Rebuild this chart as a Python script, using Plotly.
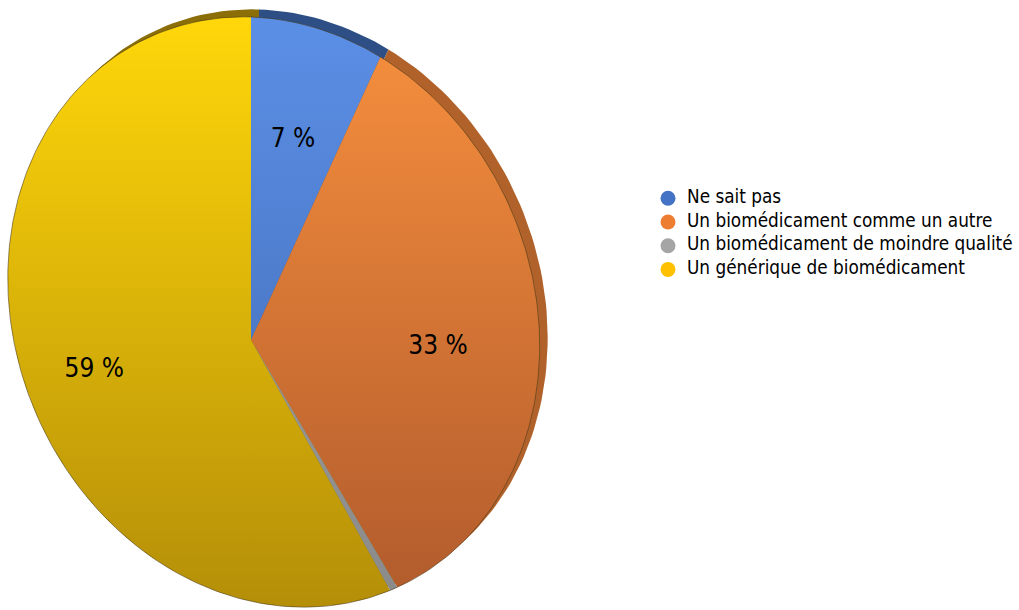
import numpy as np
import plotly.graph_objects as go

# Survey answers and their shares (%)
categories = [
    "Ne sait pas",
    "Un biomédicament comme un autre",
    "Un biomédicament de moindre qualité",
    "Un générique de biomédicament",
]
values = [7, 33, 0.5, 59]
value_labels = ["7 %", "33 %", "", "59 %"]

# Colours: legend swatch, face gradient (top -> bottom), side wall
legend_colors = ["#4472c4", "#ed7d31", "#a5a5a5", "#ffc000"]
face_top = ["#5b8fe6", "#f8903e", "#a8a8a8", "#ffd70a"]
face_bottom = ["#4068b0", "#b05a2c", "#8a8a8a", "#b48e08"]
side_colors = ["#2e4f86", "#b0622a", "#707070", "#8c6e08"]

W, H_PX = 1019, 610

# Perspective mapping of the unit disc onto the page (pixel space, y down)
HOMOG = np.array([
    [241.2, -26.5, 251.0],
    [6.93, -324.8, 340.0],
    [-0.085, -0.1056, 1.0],
])
SIDE_SHIFT = (8.0, -7.5)  # offset of the disc's lower rim (gives the 3D wall)


def project(u, v):
    pts = HOMOG @ np.vstack([u, v, np.ones_like(u)])
    return pts[0] / pts[2], pts[1] / pts[2]


def wedge(a0, a1, n=240):
    """Wedge between clockwise angles a0..a1 (radians, 0 = top)."""
    t = np.linspace(a0, a1, max(4, int(n * (a1 - a0) / (2 * np.pi)) + 4))
    u = np.concatenate([[0.0], np.sin(t), [0.0]])
    v = np.concatenate([[0.0], np.cos(t), [0.0]])
    return project(u, v)


total = float(sum(values))
bounds = np.concatenate([[0.0], np.cumsum(values)]) / total * 2 * np.pi

fig = go.Figure()

# Side wall: shifted copies drawn underneath the faces
for i in range(len(values)):
    x, y = wedge(bounds[i], bounds[i + 1])
    fig.add_trace(go.Scatter(
        x=x + SIDE_SHIFT[0], y=y + SIDE_SHIFT[1], mode="lines", fill="toself",
        fillcolor=side_colors[i], line=dict(width=0), hoverinfo="skip",
        showlegend=False,
    ))

# Top faces of the slices
for i in range(len(values)):
    x, y = wedge(bounds[i], bounds[i + 1])
    fig.add_trace(go.Scatter(
        x=x, y=y, mode="lines", fill="toself",
        fillgradient=dict(
            type="vertical",
            colorscale=[[0, face_top[i]], [1, face_bottom[i]]],
            start=17, stop=610,
        ),
        line=dict(width=0), hoverinfo="skip", showlegend=False,
    ))

# Thin rim around the face
t = np.linspace(0, 2 * np.pi, 480)
rx, ry = project(np.sin(t), np.cos(t))
fig.add_trace(go.Scatter(
    x=rx, y=ry, mode="lines", line=dict(color="rgba(70,55,20,0.55)", width=1),
    hoverinfo="skip", showlegend=False,
))

# Value labels at each slice's mid angle
lab_x, lab_y, lab_t = [], [], []
for i, txt in enumerate(value_labels):
    if not txt:
        continue
    mid = 0.5 * (bounds[i] + bounds[i + 1])
    lx, ly = project(np.array([0.67 * np.sin(mid)]), np.array([0.67 * np.cos(mid)]))
    lab_x.append(lx[0]); lab_y.append(ly[0]); lab_t.append(txt)
fig.add_trace(go.Scatter(
    x=lab_x, y=lab_y, mode="text", text=lab_t, textposition="middle center",
    textfont=dict(family="DejaVu Sans Condensed, DejaVu Sans, sans-serif",
                  size=26, color="#000000"),
    hoverinfo="skip", showlegend=False,
))

# Legend (drawn in page coordinates)
leg_x, leg_y0, leg_dy = 668, 198.3, 23.7
leg_y = [leg_y0 + k * leg_dy for k in range(len(categories))]
fig.add_trace(go.Scatter(
    x=[leg_x] * len(categories), y=leg_y, mode="markers",
    marker=dict(size=15, color=legend_colors, line=dict(width=0)),
    hoverinfo="skip", showlegend=False,
))
fig.add_trace(go.Scatter(
    x=[leg_x + 19] * len(categories), y=leg_y, mode="text", text=categories,
    textposition="middle right",
    textfont=dict(family="DejaVu Sans Condensed, DejaVu Sans, sans-serif",
                  size=18.8, color="#000000"),
    hoverinfo="skip", showlegend=False,
))

fig.update_layout(
    width=W, height=H_PX,
    margin=dict(l=0, r=0, t=0, b=0),
    paper_bgcolor="white", plot_bgcolor="white",
    xaxis=dict(range=[0, W], visible=False, fixedrange=True),
    yaxis=dict(range=[H_PX, 0], visible=False, fixedrange=True),
    showlegend=False,
)

fig.write_html("out.html", config=dict(displayModeBar=False))
